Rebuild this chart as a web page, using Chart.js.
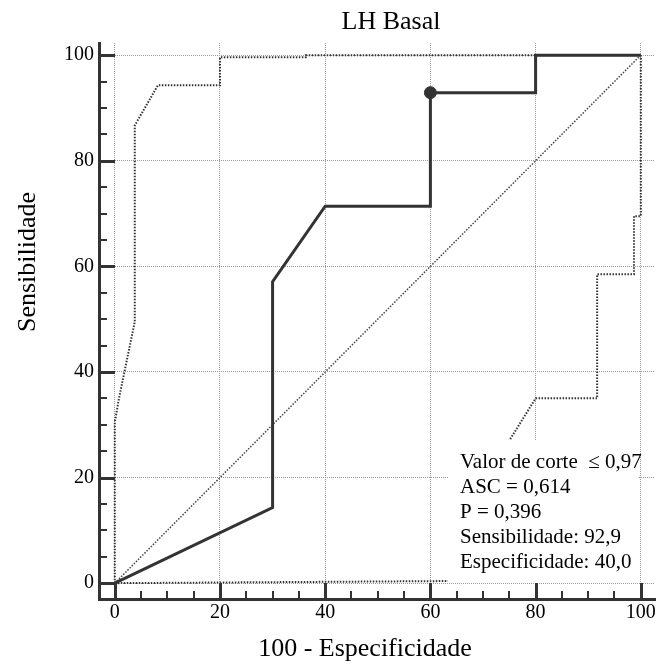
<!DOCTYPE html>
<html lang="pt">
<head>
<meta charset="utf-8">
<title>LH Basal</title>
<script src="https://cdn.jsdelivr.net/npm/chart.js@4/dist/chart.umd.min.js"></script>
<style>
  html, body { margin: 0; padding: 0; background: #fff; }
  #wrap { width: 662px; height: 671px; }
</style>
</head>
<body>
<div id="wrap"><canvas id="roc" width="662" height="671"></canvas></div>
<script>
// =========================
// DADOS
// =========================

// curva ROC (100 - especificidade, sensibilidade)
const rocX = [0, 30, 30, 40, 60, 60, 80, 80, 100];
const rocY = [0, 14.3, 57.1, 71.4, 71.4, 92.9, 92.9, 100, 100];

// limite superior do intervalo de confiança
const upperX = [0, 0, 0.8, 3.8, 3.8, 8.2, 20, 20, 36.3, 36.3, 100];
const upperY = [0, 30.5, 35, 49.5, 86.7, 94.3, 94.3, 99.6, 99.6, 100, 100];

// limite inferior do intervalo de confiança
const lowerX = [0, 63.6, 75, 80, 91.7, 91.7, 98.7, 98.7, 100, 100];
const lowerY = [0, 0.4, 27, 35, 35, 58.5, 58.5, 69.5, 69.5, 100];

// diagonal de referência
const diagX = [0, 100];
const diagY = [0, 100];

// ponto de corte
const cutX = [60];
const cutY = [92.9];

// eixos
const majorTicks = [0, 20, 40, 60, 80, 100];
const minorTicks = [5, 10, 15, 25, 30, 35, 45, 50, 55, 65, 70, 75, 85, 90, 95];

const chartTitle = 'LH Basal';
const xTitle = '100 - Especificidade';
const yTitle = 'Sensibilidade';

const infoLines = [
  'Valor de corte  \u2264 0,97',
  'ASC = 0,614',
  'P = 0,396',
  'Sensibilidade: 92,9',
  'Especificidade: 40,0'
];

const toPoints = (xs, ys) => xs.map((x, i) => ({ x: x, y: ys[i] }));

const FONT = "'Liberation Serif', 'Times New Roman', serif";

// =========================
// MARCAS DOS EIXOS, TÍTULOS E CAIXA
// =========================

const extras = {
  id: 'extras',
  afterDatasetsDraw(chart) {
    const ctx = chart.ctx;
    const area = chart.chartArea;

    // caixa com os resultados
    const boxRight = area.right - 16;
    const boxBottom = area.bottom - 17;
    const boxLeft = boxRight - 191;
    const boxTop = boxBottom - 142;

    ctx.save();
    ctx.fillStyle = '#fff';
    ctx.fillRect(boxLeft, boxTop, boxRight - boxLeft, boxBottom - boxTop);
    ctx.fillStyle = '#000';
    ctx.font = '21px ' + FONT;
    ctx.textAlign = 'left';
    ctx.textBaseline = 'alphabetic';
    infoLines.forEach((line, i) => {
      ctx.fillText(line, boxLeft + 12, boxTop + 28 + i * 25);
    });
    ctx.restore();
  },
  afterDraw(chart) {
    const ctx = chart.ctx;
    const area = chart.chartArea;
    const xs = chart.scales.x;
    const ys = chart.scales.y;

    ctx.save();
    ctx.strokeStyle = '#333';
    ctx.lineCap = 'butt';

    const tick = (value, len, width) => {
      ctx.lineWidth = width;
      const px = Math.round(xs.getPixelForValue(value)) + (width % 2 ? 0.5 : 0);
      const py = Math.round(ys.getPixelForValue(value)) + (width % 2 ? 0.5 : 0);
      ctx.beginPath();
      ctx.moveTo(px, area.bottom);
      ctx.lineTo(px, area.bottom - len);
      ctx.stroke();
      ctx.beginPath();
      ctx.moveTo(area.left, py);
      ctx.lineTo(area.left + len, py);
      ctx.stroke();
    };
    majorTicks.forEach(v => tick(v, 16, 3));
    minorTicks.forEach(v => tick(v, 8, 2));

    // títulos
    ctx.fillStyle = '#000';
    ctx.font = '26px ' + FONT;
    ctx.textAlign = 'center';
    ctx.textBaseline = 'alphabetic';
    ctx.fillText(chartTitle, 391, 29);
    ctx.fillText(xTitle, 365, 656);

    ctx.translate(35, 262);
    ctx.rotate(-Math.PI / 2);
    ctx.fillText(yTitle, 0, 0);
    ctx.restore();
  }
};

// =========================
// GRÁFICO
// =========================

const tickFont = { family: FONT, size: 20 };

new Chart(document.getElementById('roc'), {
  type: 'scatter',
  data: {
    datasets: [
      {
        label: 'Corte',
        data: toPoints(cutX, cutY),
        pointRadius: 6,
        pointBackgroundColor: '#333',
        pointBorderColor: '#333',
        showLine: false
      },
      {
        label: 'ROC',
        data: toPoints(rocX, rocY),
        showLine: true,
        borderColor: '#333',
        borderWidth: 3,
        pointRadius: 0,
        tension: 0
      },
      {
        label: 'Diagonal',
        data: toPoints(diagX, diagY),
        showLine: true,
        borderColor: '#444',
        borderWidth: 1.5,
        borderDash: [1.5, 1.5],
        pointRadius: 0
      },
      {
        label: 'IC superior',
        data: toPoints(upperX, upperY),
        showLine: true,
        borderColor: '#333',
        borderWidth: 2,
        borderDash: [1.5, 1.5],
        pointRadius: 0
      },
      {
        label: 'IC inferior',
        data: toPoints(lowerX, lowerY),
        showLine: true,
        borderColor: '#333',
        borderWidth: 2,
        borderDash: [1.5, 1.5],
        pointRadius: 0
      }
    ]
  },
  options: {
    responsive: false,
    animation: false,
    events: [],
    layout: {
      padding: { top: 43, right: 5, left: 0, bottom: 0 }
    },
    plugins: {
      legend: { display: false },
      tooltip: { enabled: false },
      title: { display: false }
    },
    scales: {
      x: {
        type: 'linear',
        min: -3,
        max: 102.7,
        afterBuildTicks: scale => {
          scale.ticks = majorTicks.map(v => ({ value: v }));
        },
        afterFit: scale => { scale.height = 72; },
        grid: {
          color: '#999',
          lineWidth: 1,
          drawTicks: false
        },
        border: {
          display: true,
          color: '#333',
          width: 3,
          dash: [1, 1]
        },
        ticks: {
          color: '#000',
          font: tickFont,
          padding: 2,
          maxRotation: 0
        }
      },
      y: {
        type: 'linear',
        min: -3,
        max: 102.3,
        afterBuildTicks: scale => {
          scale.ticks = majorTicks.map(v => ({ value: v }));
        },
        afterFit: scale => { scale.width = 99; },
        grid: {
          color: '#999',
          lineWidth: 1,
          drawTicks: false
        },
        border: {
          display: true,
          color: '#333',
          width: 3,
          dash: [1, 1]
        },
        ticks: {
          color: '#000',
          font: tickFont,
          padding: 5
        }
      }
    }
  },
  plugins: [extras]
});
</script>
</body>
</html>
